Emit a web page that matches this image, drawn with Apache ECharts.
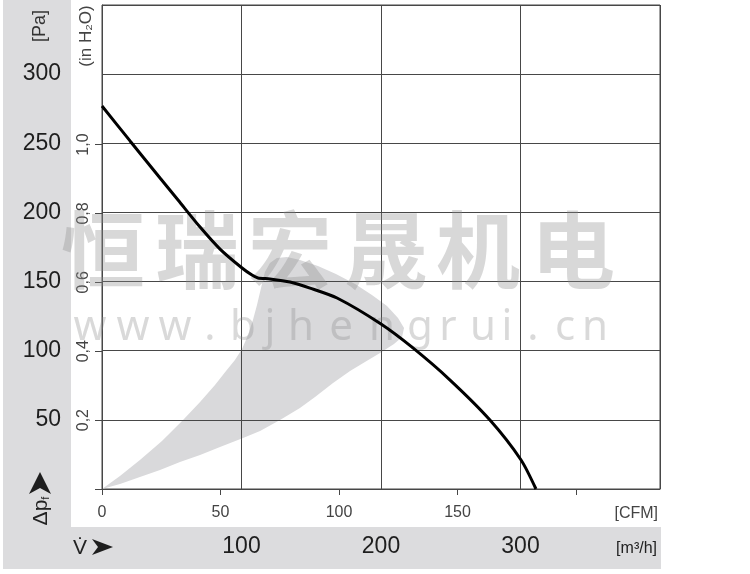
<!DOCTYPE html>
<html><head><meta charset="utf-8">
<script src="https://cdn.jsdelivr.net/npm/echarts@6/dist/echarts.min.js"></script>
<style>html,body{margin:0;padding:0;background:#fff}#c{width:750px;height:574px}</style>
</head><body><div id="c"></div>
<script>
// Fan curve: volume flow [m³/h] vs static pressure [Pa]
const flowM3h    = [0, 20.1, 41.6, 54.5, 70.3, 84.6, 100.4, 107.5, 111.8, 120.4, 134.8, 149.1, 168.5, 200.0, 222.9, 249.5, 278.1, 300.4, 311.1];
const pressurePa = [277.0, 251.7, 224.9, 209.0, 189.4, 173.5, 159.8, 154.7, 152.6, 151.9, 149.7, 145.3, 138.1, 119.3, 102.0, 78.8, 49.9, 21.0, 0];

// Grey operating-range wedge (outline, m³/h vs Pa)
const wedgeFlow = [0, 12.9, 27.2, 43.0, 58.1, 70.3, 81.0, 88.9, 95.3, 100.4, 104.7, 108.2, 111.1, 114.0, 116.8, 120.4, 125.4, 132.6, 141.9, 154.8, 167.7, 181.4, 193.5, 204.3, 212.2, 216.5, 215.1, 209.3, 199.3, 188.5, 177.8, 165.6, 152.7, 141.9, 127.6, 113.3, 101.1, 84.6, 70.3, 55.9, 41.6, 27.2, 12.9];
const wedgePa   = [0, 9.4, 21.0, 34.7, 49.9, 62.9, 75.2, 85.3, 93.3, 101.2, 111.4, 122.2, 133.1, 145.3, 156.9, 163.4, 167.0, 167.8, 165.6, 161.3, 155.5, 148.2, 140.3, 132.3, 123.7, 116.4, 109.9, 104.9, 98.3, 91.8, 85.3, 76.7, 66.5, 58.6, 49.9, 41.9, 36.9, 30.4, 24.6, 19.5, 13.7, 8.7, 3.6];

// Tick labels
const paTicks    = [50, 100, 150, 200, 250, 300];
const inH2OTicks = [0, 0.2, 0.4, 0.6, 0.8, 1.0];
const inH2OLabels = [0.2, 0.4, 0.6, 0.8, 1.0];
const cfmTicks   = [0, 50, 100, 150, 200];
const cfmLabels  = [0, 50, 100, 150];
const m3hTicks   = [100, 200, 300];

const M3H_PER_CFM = 1.699;
const PA_PER_INH2O = 249.089;

const FONT = "'Liberation Sans', Arial, 'DejaVu Sans', sans-serif";
const LINE = '#474747';
const BAND = '#dcdcde';

const chart = echarts.init(document.getElementById('c'), null, {renderer: 'canvas'});

const wmCJK = ['恒','瑞','宏','晟','机','电'];
const wmCJKx = [103, 197, 290, 386, 478, 573];
const wmURL = ['w','w','w','.','b','j','h','e','n','g','r','u','i','.','c','n'];
const wmURLx = [90, 133, 175, 210, 243, 270, 301, 341, 382, 420, 448, 483, 507, 533, 565, 595];

const graphics = [
  {type:'rect', z:-5, shape:{x:3, y:0, width:68, height:527}, style:{fill:BAND}},
  {type:'rect', z:-5, shape:{x:3, y:527, width:658, height:42}, style:{fill:BAND}},
  {type:'text', x:40, y:26, rotation:Math.PI/2, z:5,
    style:{text:'[Pa]', x:0, y:0, align:'center', verticalAlign:'middle', fontSize:18, fill:'#333', fontFamily:FONT}},
  {type:'text', x:86, y:36, rotation:Math.PI/2, z:5,
    style:{text:'(in H₂O)', x:0, y:0, align:'center', verticalAlign:'middle', fontSize:17, fill:'#444', fontFamily:FONT}},
  {type:'text', x:41, y:511, rotation:Math.PI/2, z:5,
    style:{text:'Δp{s|f}', x:0, y:0, align:'center', verticalAlign:'middle', fontSize:21, fill:'#222', fontFamily:FONT,
      rich:{s:{fontSize:11, fill:'#222', fontFamily:FONT, verticalAlign:'bottom'}}}},
  {type:'polygon', z:5, shape:{points:[[40,472],[51,494],[40,488],[29,494]]}, style:{fill:'#1e1e1e'}},
  {type:'text', x:80, y:548, z:5,
    style:{text:'V\u0307', x:0, y:0, align:'center', verticalAlign:'middle', fontSize:21, fill:'#222', fontFamily:FONT}},
  {type:'polygon', z:5, shape:{points:[[113,547],[92,539],[98,547],[92,555]]}, style:{fill:'#1e1e1e'}},
  {type:'text', x:658, y:514, z:5,
    style:{text:'[CFM]', x:0, y:0, align:'right', verticalAlign:'middle', fontSize:16, fill:'#444', fontFamily:FONT}},
  {type:'text', x:657, y:549, z:5,
    style:{text:'[m³/h]', x:0, y:0, align:'right', verticalAlign:'middle', fontSize:16, fill:'#222', fontFamily:FONT}}
];
wmCJK.forEach((ch, i) => graphics.push({type:'text', x:wmCJKx[i], y:250, z:3,
  style:{text:ch, x:0, y:0, align:'center', verticalAlign:'middle', fontSize:84, fontWeight:'bold',
    fill:'rgba(140,140,140,0.34)', fontFamily:"'Noto Sans CJK SC', sans-serif"}}));
wmURL.forEach((ch, i) => graphics.push({type:'text', x:wmURLx[i], y:328, z:3,
  style:{text:ch, x:0, y:0, align:'center', verticalAlign:'middle', fontSize:42,
    fill:'rgba(140,140,140,0.33)', fontFamily:"'Noto Sans', sans-serif"}}));

const option = {
  animation: false,
  backgroundColor: '#fff',
  graphic: {elements: graphics},
  grid: {left:102, top:5, width:558, height:484, show:true, borderColor:LINE, borderWidth:1, backgroundColor:'transparent'},
  xAxis: [
    {type:'value', min:0, max:400, interval:100, position:'bottom', z:2,
     axisLine:{show:true, lineStyle:{color:LINE, width:1}},
     axisTick:{show:false},
     splitLine:{show:true, lineStyle:{color:LINE, width:1}},
     axisLabel:{show:true, margin:46, fontSize:23, color:'#1e1e1e', fontFamily:FONT,
       formatter: v => m3hTicks.includes(v) ? String(v) : ''}},
    {type:'value', min:0, max:400 / M3H_PER_CFM, interval:50, position:'bottom', offset:0, z:2,
     axisLine:{show:false},
     axisTick:{show:true, length:6, customValues:cfmTicks, lineStyle:{color:LINE, width:1}},
     splitLine:{show:false},
     axisLabel:{show:true, margin:16, fontSize:16, color:'#444', fontFamily:FONT, customValues:cfmLabels,
       formatter: v => cfmLabels.includes(v) ? String(v) : ''}}
  ],
  yAxis: [
    {type:'value', min:0, max:350, interval:50, position:'left', z:2,
     axisLine:{show:true, lineStyle:{color:LINE, width:1}},
     axisTick:{show:false},
     splitLine:{show:true, lineStyle:{color:LINE, width:1}},
     axisLabel:{show:true, margin:41, fontSize:23, color:'#1e1e1e', fontFamily:FONT,
       formatter: v => paTicks.includes(v) ? String(v) : ''}},
    {type:'value', min:0, max:350 / PA_PER_INH2O, interval:0.2, position:'left', offset:0, z:2,
     axisLine:{show:false},
     axisTick:{show:true, length:7, customValues:inH2OTicks, lineStyle:{color:LINE, width:1}},
     splitLine:{show:false},
     axisLabel:{show:true, rotate:90, margin:10, fontSize:16, color:'#444', fontFamily:FONT, customValues:inH2OLabels,
       formatter: v => inH2OLabels.some(t => Math.abs(t - v) < 1e-6) ? v.toFixed(1).replace('.', ',') : ''}}
  ],
  series: [
    {type:'custom', xAxisIndex:0, yAxisIndex:0, z:1, silent:true,
     data: wedgeFlow.map((x, i) => [x, wedgePa[i]]),
     renderItem: (params, api) => {
       if (params.dataIndex !== 0) return null;
       const pts = wedgeFlow.map((x, i) => api.coord([x, wedgePa[i]]));
       return {type:'polygon', shape:{points:pts}, style:{fill:'#d9d9db', stroke:'none'}};
     }},
    {type:'line', xAxisIndex:0, yAxisIndex:0, z:4, silent:true,
     data: flowM3h.map((x, i) => [x, pressurePa[i]]),
     smooth:0.25, showSymbol:false, symbol:'none',
     lineStyle:{color:'#000', width:3}}
  ]
};
chart.setOption(option);
</script>
</body></html>
